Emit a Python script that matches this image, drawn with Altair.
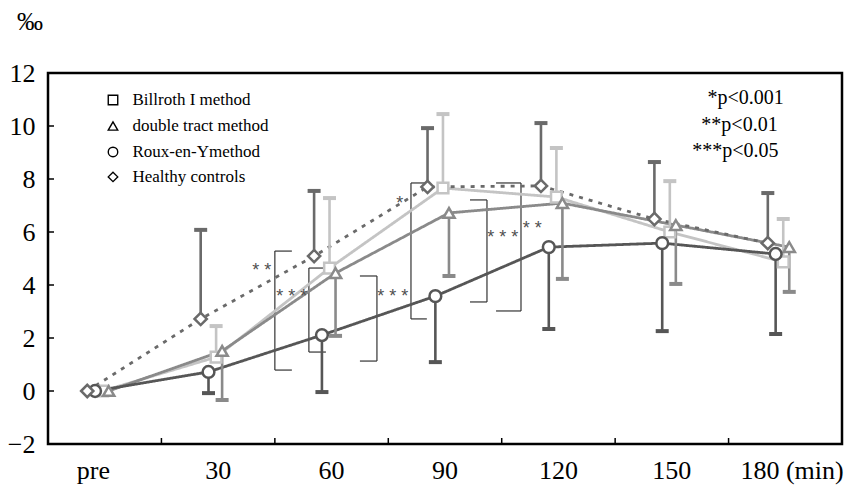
import altair as alt
import pandas as pd

# ---------------- data ----------------
groups = ["Billroth I method", "double tract method", "Roux-en-Ymethod", "Healthy controls"]
colors = ["#c4c4c4", "#8a8a8a", "#565656", "#6a6a6a"]
shapes = ["square", "triangle-up", "circle", "diamond"]
dashes = [[1, 0], [1, 0], [1, 0], [4, 6]]
marker_sizes = [115, 150, 100, 150]
x_offsets = [-0.018, 0.035, -0.085, -0.154]

time_labels = ["pre", "30", "60", "90", "120", "150", "180 (min)"]
time_label_pos = [-0.1, 1, 2, 3, 4, 5, 6.06]

billroth = [0, 1.28, 4.64, 7.66, 7.32, 6.00, 4.87]
billroth_err = [None, 2.45, 7.28, 10.45, 9.17, 7.92, 6.49]
double_tract = [0, 1.51, 4.45, 6.72, 7.09, 6.26, 5.43]
double_tract_err = [None, -0.34, 2.08, 4.34, 4.23, 4.04, 3.74]
roux = [0, 0.72, 2.11, 3.58, 5.43, 5.58, 5.17]
roux_err = [None, -0.08, -0.04, 1.09, 2.34, 2.26, 2.15]
healthy = [0, 2.72, 5.09, 7.70, 7.74, 6.49, 5.58]
healthy_err = [None, 6.08, 7.55, 9.92, 10.11, 8.64, 7.47]

y_ticks = [-2, 0, 2, 4, 6, 8, 10, 12]
x_bounds = [0.5, 1.5, 2.5, 3.5, 4.5, 5.5]

# legend placement (data units)
legend_y = [10.98, 10.0, 9.02, 8.08]
legend_sym_x = 0.073
legend_text_x = 0.245

# significance brackets: vertical line x, arm end x, top, bottom
br_x = [1.50, 1.80, 2.40, 2.70, 3.37, 3.67]
br_arm = [1.65, 1.95, 2.25, 2.84, 3.22, 3.45]
br_top = [5.28, 4.64, 4.34, 7.85, 7.21, 7.85]
br_bot = [0.79, 1.47, 1.13, 2.72, 3.36, 3.02]

star_text = ["* *", "* * *", "* * *", "*", "* * *", "* *"]
star_x = [1.385, 1.65, 2.54, 2.60, 3.51, 3.77]
star_y = [4.72, 3.74, 3.74, 7.25, 5.96, 6.30]

sig_text = ["*p<0.001", "**p<0.01", "***p<0.05"]
sig_x = [5.315, 5.26, 5.18]
sig_y = [11.06, 10.04, 9.06]

unit_label = "‰"

# ---------------- tables ----------------
series_vals = [billroth, double_tract, roux, healthy]
series_err = [billroth_err, double_tract_err, roux_err, healthy_err]
rows = []
for g, vals, errs, off in zip(groups, series_vals, series_err, x_offsets):
    for i, (v, e) in enumerate(zip(vals, errs)):
        rows.append({"group": g, "x": i + off, "value": v, "err": e})
df = pd.DataFrame(rows)
err_df = df.dropna(subset=["err"])

leg_df = pd.DataFrame({"group": groups, "y": legend_y,
                       "sx": [legend_sym_x] * 4, "tx": [legend_text_x] * 4})
br_df = pd.DataFrame({"x": br_x, "arm": br_arm, "top": br_top, "bot": br_bot})
star_df = pd.DataFrame({"t": star_text, "x": star_x, "y": star_y})
sig_df = pd.DataFrame({"t": sig_text, "x": sig_x, "y": sig_y})
lab_df = pd.DataFrame({"lab": time_labels, "pos": time_label_pos})

W, H = 794, 371
SERIF = "Liberation Serif"

xs = alt.Scale(domain=[-0.5, 6.5], nice=False, zero=False)
ys = alt.Scale(domain=[-2, 12], nice=False, zero=False)
y_axis = alt.Axis(values=y_ticks, tickSize=0, domain=False, grid=False,
                  labelFont=SERIF, labelFontSize=26, labelColor="black",
                  labelPadding=13, title=None)


def X(f):
    return alt.X(f, scale=xs, axis=None)


def Y(f):
    return alt.Y(f, scale=ys, axis=y_axis)


stroke_enc = alt.Stroke("group:N", scale=alt.Scale(domain=groups, range=colors), legend=None)
color_enc = alt.Color("group:N", scale=alt.Scale(domain=groups, range=colors), legend=None)
shape_enc = alt.Shape("group:N", scale=alt.Scale(domain=groups, range=shapes), legend=None)

lines = alt.Chart(df).mark_line(strokeWidth=2.8).encode(
    x=X("x:Q"), y=Y("value:Q"), stroke=stroke_enc,
    strokeDash=alt.StrokeDash("group:N", scale=alt.Scale(domain=groups, range=dashes), legend=None),
    order=alt.Order("x:Q"),
)

err_rules = alt.Chart(err_df).mark_rule(strokeWidth=2.6).encode(
    x=X("x:Q"), y=Y("value:Q"), y2="err:Q", stroke=stroke_enc
)

caps = alt.Chart(err_df).mark_tick(orient="horizontal", size=13, thickness=4, opacity=1).encode(
    x=X("x:Q"), y=Y("err:Q"), color=color_enc
)

points = alt.Chart(df).mark_point(filled=True, fill="white", strokeWidth=2.5, opacity=1).encode(
    x=X("x:Q"), y=Y("value:Q"), stroke=stroke_enc, shape=shape_enc,
    size=alt.Size("group:N", scale=alt.Scale(domain=groups, range=marker_sizes), legend=None),
)

leg_sym = alt.Chart(leg_df).mark_point(filled=True, fill="white", stroke="black",
                                       strokeWidth=1.4, opacity=1, size=90).encode(
    x=X("sx:Q"), y=Y("y:Q"), shape=shape_enc)
leg_txt = alt.Chart(leg_df).mark_text(font=SERIF, fontSize=17, color="black",
                                      align="left", baseline="middle").encode(
    x=X("tx:Q"), y=Y("y:Q"), text="group:N")

y_tick_marks = alt.Chart(pd.DataFrame({"v": y_ticks})).mark_rule(color="black", strokeWidth=1.5).encode(
    y=Y("v:Q"), x=alt.value(0), x2=alt.value(6)
)
x_tick_marks = alt.Chart(pd.DataFrame({"b": x_bounds})).mark_rule(color="black", strokeWidth=1.5).encode(
    x=X("b:Q"), y=alt.value(H), y2=alt.value(H - 6)
)

x_labels = alt.Chart(lab_df).mark_text(font=SERIF, fontSize=26, color="black",
                                       align="center", baseline="middle").encode(
    x=X("pos:Q"), y=alt.value(H + 27), text="lab:N"
)

unit_txt = alt.Chart(pd.DataFrame({"t": [unit_label]})).mark_text(
    font=SERIF, fontSize=26, color="black", align="left", baseline="middle").encode(
    x=alt.value(-31), y=alt.value(-51), text="t:N")

br_vert = alt.Chart(br_df).mark_rule(color="#333333", strokeWidth=1.2).encode(
    x=X("x:Q"), y=Y("top:Q"), y2="bot:Q")
br_top_arm = alt.Chart(br_df).mark_rule(color="#333333", strokeWidth=1.2).encode(
    x=X("x:Q"), x2="arm:Q", y=Y("top:Q"))
br_bot_arm = alt.Chart(br_df).mark_rule(color="#333333", strokeWidth=1.2).encode(
    x=X("x:Q"), x2="arm:Q", y=Y("bot:Q"))

stars = alt.Chart(star_df).mark_text(font="Liberation Sans", fontSize=18, color="#505050",
                                     align="center", baseline="middle", dy=5).encode(
    x=X("x:Q"), y=Y("y:Q"), text="t:N")

sig = alt.Chart(sig_df).mark_text(font=SERIF, fontSize=20, color="black",
                                  align="left", baseline="middle").encode(
    x=X("x:Q"), y=Y("y:Q"), text="t:N")

chart = alt.layer(
    y_tick_marks, x_tick_marks, br_vert, br_top_arm, br_bot_arm,
    lines, err_rules, caps, points, stars, sig, leg_sym, leg_txt, x_labels, unit_txt,
).properties(
    width=W, height=H,
    autosize=alt.AutoSizeParams(type="none"),
    padding={"left": 40, "top": 65, "right": 6, "bottom": 48},
).configure_view(stroke="black", strokeWidth=2.5)

chart.save("out.html", embed_options={"renderer": "svg", "actions": False})
